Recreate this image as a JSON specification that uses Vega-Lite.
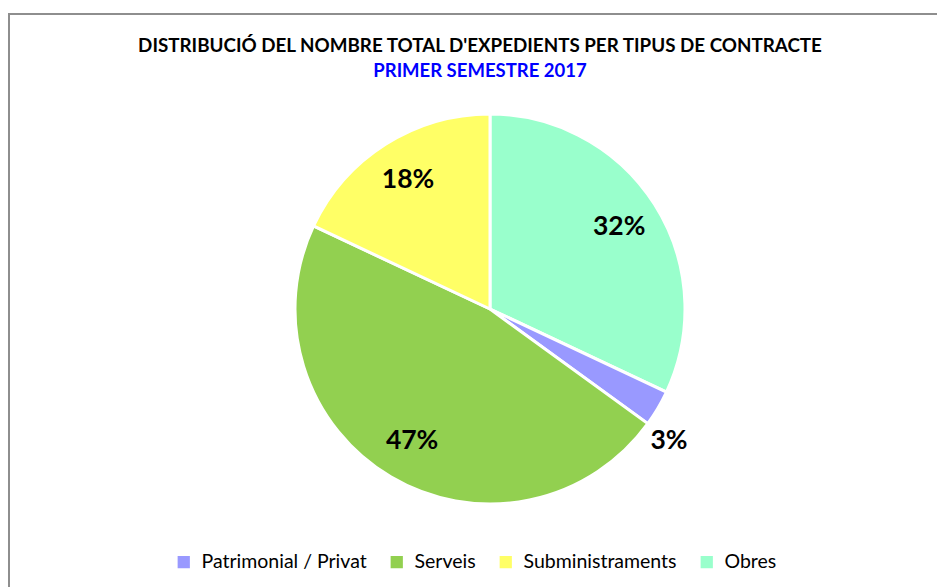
{
  "$schema": "https://vega.github.io/schema/vega-lite/v6.json",
  "autosize": {"type": "none"},
  "width": 962,
  "height": 590,
  "padding": {"left": 9, "top": 14, "right": 0, "bottom": 0},
  "background": "white",
  "view": {"stroke": "#8e8e8e", "strokeWidth": 2, "fill": "white"},
  "config": {
    "font": "Lato"
  },
  "title": {
    "text": "DISTRIBUCIÓ DEL NOMBRE TOTAL D'EXPEDIENTS PER TIPUS DE CONTRACTE",
    "subtitle": "PRIMER SEMESTRE 2017",
    "anchor": "middle",
    "frame": "group",
    "offset": -66,
    "dx": -10,
    "font": "Lato",
    "fontSize": 18.8,
    "fontWeight": "bold",
    "color": "#000000",
    "subtitleFont": "Lato",
    "subtitleFontSize": 18.5,
    "subtitleFontWeight": "bold",
    "subtitleColor": "#0000FF",
    "subtitlePadding": 6
  },
  "data": {
    "values": [
      {"tipus": "Obres", "valor": 0.32, "ordre": 1},
      {"tipus": "Patrimonial / Privat", "valor": 0.03, "ordre": 2},
      {"tipus": "Serveis", "valor": 0.47, "ordre": 3},
      {"tipus": "Subministraments", "valor": 0.18, "ordre": 4}
    ]
  },
  "encoding": {
    "theta": {"field": "valor", "type": "quantitative", "stack": true},
    "order": {"field": "ordre", "type": "quantitative"}
  },
  "layer": [
    {
      "mark": {"type": "arc", "outerRadius": 195, "stroke": "white", "strokeWidth": 3},
      "encoding": {
        "color": {
          "field": "tipus",
          "type": "nominal",
          "scale": {
            "domain": ["Patrimonial / Privat", "Serveis", "Subministraments", "Obres"],
            "range": ["#9999FF", "#92D050", "#FFFF66", "#99FFCC"]
          },
          "legend": {
            "title": null,
            "orient": "none",
            "legendX": 165,
            "legendY": 538,
            "direction": "horizontal",
            "columns": 4,
            "columnPadding": 20,
            "symbolType": "square",
            "symbolSize": 150,
            "symbolStrokeWidth": 0,
            "labelFont": "Lato",
            "labelFontSize": 19.5,
            "labelColor": "#000000",
            "labelOffset": 8,
            "labelLimit": 0
          }
        }
      }
    },
    {
      "mark": {"type": "text", "radius": 153, "font": "Lato", "fontSize": 26.5, "fontWeight": "bold", "fill": "#000000"},
      "encoding": {
        "detail": {"field": "tipus", "type": "nominal"},
        "text": {
          "condition": {"test": "datum.tipus !== 'Patrimonial / Privat'", "field": "valor", "type": "quantitative", "format": ".0%"},
          "value": ""
        }
      }
    },
    {
      "mark": {"type": "text", "radius": 208, "font": "Lato", "fontSize": 26.5, "fontWeight": "bold", "fill": "#000000", "dy": 26},
      "encoding": {
        "detail": {"field": "tipus", "type": "nominal"},
        "text": {
          "condition": {"test": "datum.tipus === 'Patrimonial / Privat'", "field": "valor", "type": "quantitative", "format": ".0%"},
          "value": ""
        }
      }
    }
  ]
}
